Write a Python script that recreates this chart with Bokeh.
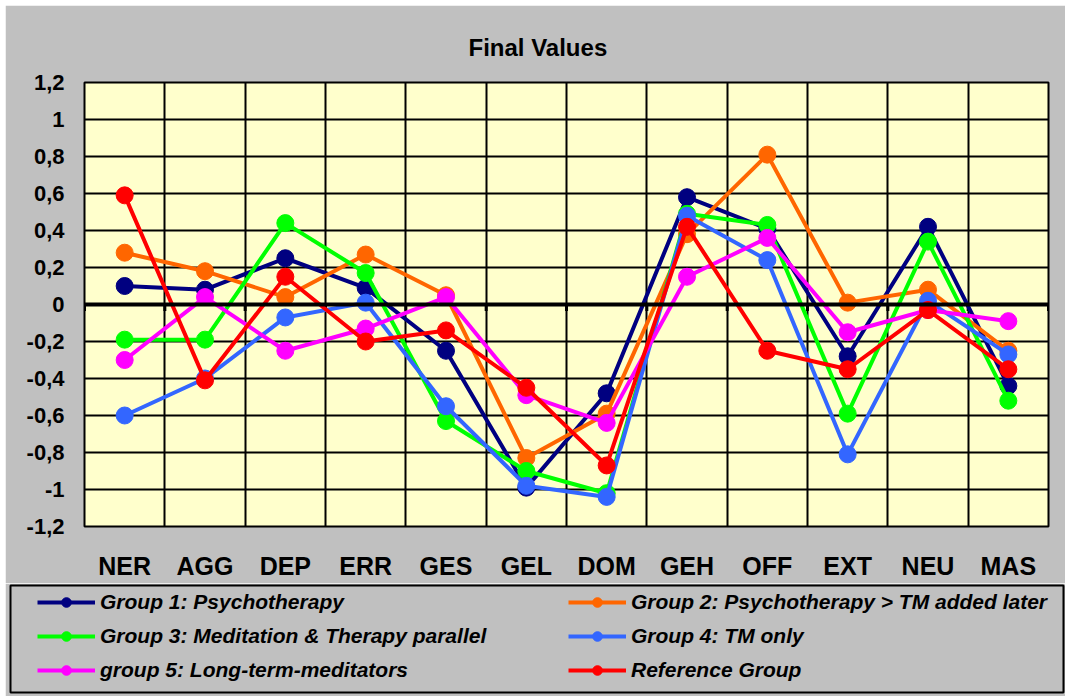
from bokeh.plotting import figure
from bokeh.layouts import column, row
from bokeh.models import Range1d, FixedTicker, Legend, LegendItem, Span
from bokeh.embed import file_html
from bokeh.resources import INLINE

categories = ["NER", "AGG", "DEP", "ERR", "GES", "GEL", "DOM", "GEH", "OFF", "EXT", "NEU", "MAS"]
group1 = [0.10, 0.08, 0.25, 0.09, -0.25, -0.99, -0.48, 0.58, 0.41, -0.28, 0.42, -0.44]
group2 = [0.28, 0.18, 0.04, 0.27, 0.05, -0.83, -0.59, 0.38, 0.81, 0.01, 0.08, -0.25]
group3 = [-0.19, -0.19, 0.44, 0.17, -0.63, -0.90, -1.02, 0.49, 0.43, -0.59, 0.34, -0.52]
group4 = [-0.60, -0.40, -0.07, 0.01, -0.55, -0.98, -1.04, 0.48, 0.24, -0.81, 0.02, -0.27]
group5 = [-0.30, 0.04, -0.25, -0.13, 0.04, -0.49, -0.64, 0.15, 0.36, -0.15, -0.03, -0.09]
reference = [0.59, -0.41, 0.15, -0.20, -0.14, -0.45, -0.87, 0.42, -0.25, -0.35, -0.03, -0.35]

series_names = [
    "Group 1: Psychotherapy",
    "Group 2: Psychotherapy > TM added later",
    "Group 3: Meditation & Therapy parallel",
    "Group 4: TM only",
    "group 5: Long-term-meditators",
    "Reference Group",
]
series_values = [group1, group2, group3, group4, group5, reference]
series_colors = ["#000080", "#FF6600", "#00FF00", "#3366FF", "#FF00FF", "#FF0000"]

y_ticks = [-1.2, -1.0, -0.8, -0.6, -0.4, -0.2, 0.0, 0.2, 0.4, 0.6, 0.8, 1.0, 1.2]
y_tick_labels = ["-1,2", "-1", "-0,8", "-0,6", "-0,4", "-0,2", "0", "0,2", "0,4", "0,6", "0,8", "1", "1,2"]

FONT = "Liberation Sans"
GRAY = "#C0C0C0"
n = len(categories)
xs = [i + 0.5 for i in range(n)]

p = figure(width=1060, height=578, output_backend="svg", toolbar_location=None,
           x_range=Range1d(0, n), y_range=Range1d(-1.2, 1.2),
           min_border_left=79, min_border_right=17, min_border_top=77, min_border_bottom=57)

p.background_fill_color = "#FFFFCC"
p.border_fill_color = GRAY
p.outline_line_color = "black"
p.outline_line_width = 2

p.title.text = "Final Values"
p.title.text_font = FONT
p.title.text_font_size = "24px"
p.title.text_font_style = "bold"
p.title.text_color = "black"
p.title.align = "left"
p.title.offset = 384
p.title.vertical_align = "middle"
p.title.standoff = 42

# grids
p.xgrid.ticker = FixedTicker(ticks=list(range(n + 1)))
p.xgrid.grid_line_color = "black"
p.xgrid.grid_line_width = 2
p.ygrid.ticker = FixedTicker(ticks=y_ticks)
p.ygrid.grid_line_color = "black"
p.ygrid.grid_line_width = 2

# axes
p.xaxis.ticker = FixedTicker(ticks=xs)
p.xaxis.major_label_overrides = {x: c for x, c in zip(xs, categories)}
p.yaxis.ticker = FixedTicker(ticks=y_ticks)
p.yaxis.major_label_overrides = {t: l for t, l in zip(y_ticks, y_tick_labels)}
for ax in (p.xaxis[0], p.yaxis[0]):
    ax.axis_line_color = None
    ax.major_tick_line_color = None
    ax.minor_tick_line_color = None
    ax.major_tick_in = 0
    ax.major_tick_out = 0
    ax.major_label_text_font = FONT
    ax.major_label_text_font_style = "bold"
    ax.major_label_text_color = "black"
p.xaxis.major_label_text_font_size = "25px"
p.xaxis.major_label_standoff = 25
p.yaxis.major_label_text_font_size = "22px"
p.yaxis.major_label_standoff = 20

# zero line with category-boundary tick marks
p.add_layout(Span(location=0, dimension="width", line_color="black", line_width=4))
bounds = list(range(n + 1))
p.segment(x0=bounds, x1=bounds, y0=[0] * len(bounds), y1=[-0.035] * len(bounds),
          line_color="black", line_width=3)

for vals, col in zip(series_values, series_colors):
    p.line(xs, vals, line_color=col, line_width=4)
    p.scatter(xs, vals, size=17, fill_color=col, line_color=col, marker="circle")

# legend panel (its frame outline acts as the legend box); data kept out of view
p2 = figure(width=1060, height=113, output_backend="svg", toolbar_location=None,
            x_range=Range1d(-3, -2), y_range=Range1d(-3, -2),
            x_axis_location=None, y_axis_location=None,
            min_border_left=5, min_border_right=2, min_border_top=2, min_border_bottom=4)
p2.background_fill_color = GRAY
p2.border_fill_color = GRAY
p2.outline_line_color = "black"
p2.outline_line_width = 2
p2.xgrid.visible = False
p2.ygrid.visible = False

items = []
for name, vals, col in zip(series_names, series_values, series_colors):
    r1 = p2.line(xs, vals, line_color=col, line_width=4)
    r2 = p2.scatter(xs, vals, size=12, fill_color=col, line_color=col, marker="circle")
    items.append(LegendItem(label=name, renderers=[r1, r2]))

legend = Legend(items=items, orientation="horizontal", ncols=2,
                location=(27, 10), padding=0, spacing=10,
                glyph_width=58, glyph_height=24, label_height=24, label_width=458,
                label_standoff=5,
                label_text_font=FONT, label_text_font_size="21px",
                label_text_font_style="bold italic", label_text_color="black",
                border_line_alpha=0, background_fill_alpha=0)
p2.add_layout(legend, "center")

layout = column(p, row(p2), spacing=0, margin=(5, 0, 0, 5))
open("out.html", "w").write(file_html(layout, INLINE))
